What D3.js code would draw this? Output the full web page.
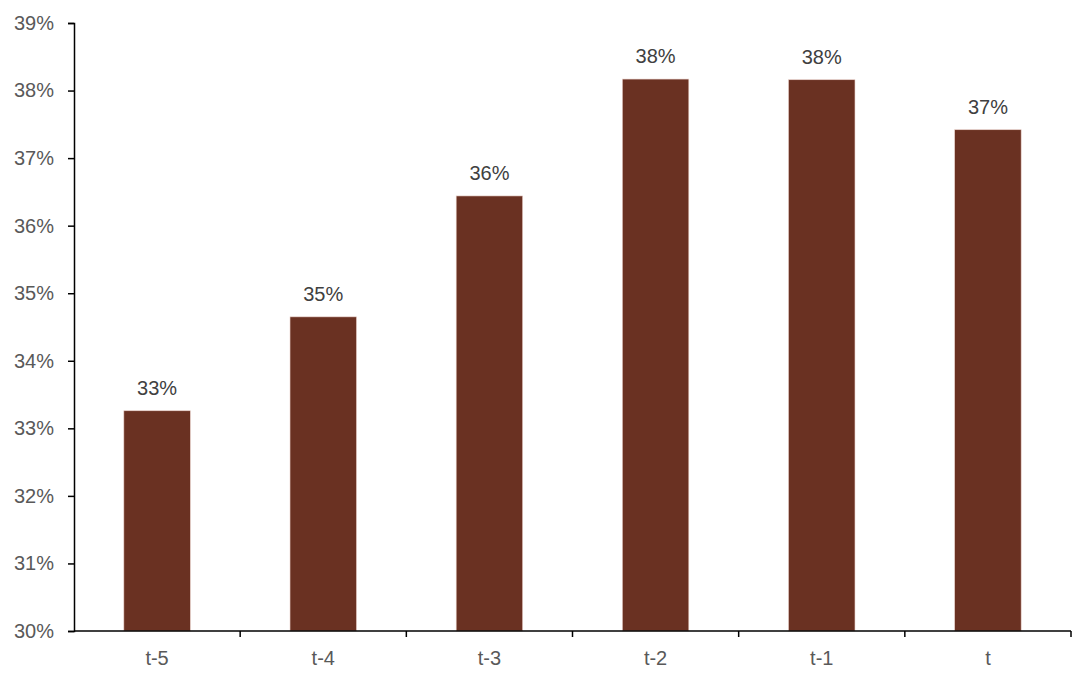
<!DOCTYPE html>
<html>
<head>
<meta charset="utf-8">
<script src="https://cdn.jsdelivr.net/npm/d3@7"></script>
<style>
  body { margin: 0; background: #fff; }
  text { font-family: "Liberation Sans", Arial, sans-serif; }
</style>
</head>
<body>
<div id="chart"></div>
<script>
// Data
let categories = ["t-5", "t-4", "t-3", "t-2", "t-1", "t"];
let values = [33.26, 34.65, 36.44, 38.17, 38.16, 37.42];
let yTicks = [30, 31, 32, 33, 34, 35, 36, 37, 38, 39];

let width = 1080, height = 674;
let margin = {top: 23, right: 9, bottom: 43, left: 74};

let svg = d3.select("#chart")
    .append("svg")
    .attr("width", width)
    .attr("height", height);

let g = svg.append("g")
    .attr("transform", `translate(${margin.left}, ${margin.top})`);

let innerW = width - margin.left - margin.right;
let innerH = height - margin.top - margin.bottom;

let x = d3.scaleBand()
    .domain(categories)
    .range([0, innerW])
    .paddingInner(0.6)
    .paddingOuter(0.3);

let y = d3.scaleLinear()
    .domain([30, 39])
    .range([innerH, 0]);

// Bars
g.selectAll("rect.bar")
    .data(values)
    .enter()
    .append("rect")
    .attr("class", "bar")
    .attr("x", (d, i) => x(categories[i]))
    .attr("y", d => y(d))
    .attr("width", x.bandwidth())
    .attr("height", d => innerH - y(d))
    .attr("fill", "#6a3122")
    .attr("stroke", "#e8cfc8")
    .attr("stroke-width", 0.6);

// Data labels
g.selectAll("text.lbl")
    .data(values)
    .enter()
    .append("text")
    .attr("class", "lbl")
    .attr("x", (d, i) => x(categories[i]) + x.bandwidth() / 2)
    .attr("y", d => y(d) - 16)
    .attr("text-anchor", "middle")
    .attr("font-size", "20px")
    .attr("fill", "#404040")
    .text(d => Math.round(d) + "%");

// Y axis
let yAxis = g.append("g")
    .call(d3.axisLeft(y).tickValues(yTicks).tickSize(6).tickPadding(14)
        .tickFormat(d => d + "%"));
yAxis.select(".domain").attr("stroke", "#000").attr("stroke-width", 1.5);
yAxis.selectAll(".tick line").attr("stroke", "#000").attr("stroke-width", 1.5);
yAxis.selectAll(".tick text")
    .attr("font-size", "20px")
    .attr("fill", "#595959")
    .style("font-family", "Liberation Sans, Arial, sans-serif");

// X axis with ticks at category boundaries
let boundaries = d3.range(1, categories.length + 1).map(i => i * innerW / categories.length);
let xg = g.append("g").attr("transform", `translate(0, ${innerH})`);
xg.append("line")
    .attr("x1", 0).attr("x2", innerW)
    .attr("stroke", "#000").attr("stroke-width", 1.5);
xg.selectAll("line.tk")
    .data(boundaries)
    .enter()
    .append("line")
    .attr("class", "tk")
    .attr("x1", d => d).attr("x2", d => d)
    .attr("y1", 0).attr("y2", 6)
    .attr("stroke", "#000").attr("stroke-width", 1.5);
xg.selectAll("text")
    .data(categories)
    .enter()
    .append("text")
    .attr("x", d => x(d) + x.bandwidth() / 2)
    .attr("y", 34)
    .attr("text-anchor", "middle")
    .attr("font-size", "20px")
    .attr("fill", "#595959")
    .text(d => d);
</script>
</body>
</html>
